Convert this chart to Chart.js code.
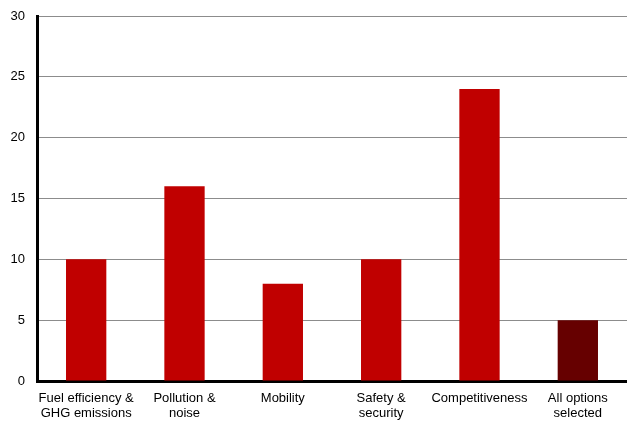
<!DOCTYPE html>
<html>
<head>
<meta charset="utf-8">
<script src="https://cdn.jsdelivr.net/npm/chart.js@4/dist/chart.umd.min.js"></script>
<style>
html,body{margin:0;padding:0;background:#fff;}
#wrap{width:627px;height:421px;position:relative;}
</style>
</head>
<body>
<div id="wrap"><canvas id="c"></canvas></div>
<script>
const categories = [["Fuel efficiency &","GHG emissions"],["Pollution &","noise"],"Mobility",["Safety &","security"],"Competitiveness",["All options","selected"]];
const values = [10, 16, 8, 10, 24, 5];
const barColors = ["#C00000","#C00000","#C00000","#C00000","#C00000","#660000"];
const yTicks = [0,5,10,15,20,25,30];

new Chart(document.getElementById('c'), {
  type: 'bar',
  data: {
    labels: categories,
    datasets: [{
      data: values,
      backgroundColor: barColors,
      borderWidth: 0,
      categoryPercentage: 1,
      barPercentage: 0.41
    }]
  },
  options: {
    responsive: true,
    maintainAspectRatio: false,
    animation: false,
    layout: { padding: { left: 0, right: 0, top: 16, bottom: 0 } },
    plugins: { legend: { display: false }, tooltip: { enabled: false } },
    scales: {
      x: {
        afterFit: (s) => { s.height = 40; s.paddingLeft = 0; s.paddingRight = 0; },
        grid: { display: false, drawTicks: false },
        border: { color: '#000', width: 3 },
        ticks: { color: '#000', font: { family: 'Liberation Sans', size: 13, lineHeight: 1.15 }, padding: 10, maxRotation: 0, autoSkip: false }
      },
      y: {
        min: 0, max: 30,
        afterFit: (s) => { s.width = 37; s.paddingTop = 0; s.paddingBottom = 0; },
        afterBuildTicks: (s) => { s.ticks = yTicks.map(v => ({ value: v })); },
        grid: { color: '#8c8c8c', lineWidth: 1, drawTicks: false },
        border: { color: '#000', width: 3 },
        ticks: { color: '#000', font: { family: 'Liberation Sans', size: 13 }, padding: 12 }
      }
    }
  }
});
</script>
</body>
</html>
